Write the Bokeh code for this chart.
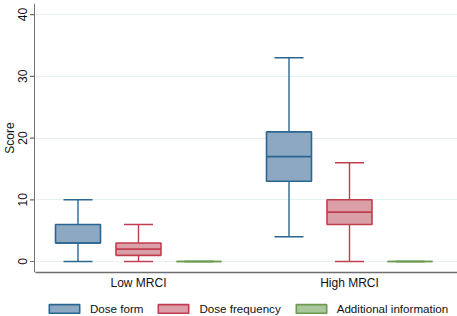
import math
from bokeh.plotting import figure
from bokeh.layouts import column, row
from bokeh.core.properties import value
from bokeh.models import ColumnDataSource, Legend, LegendItem, FixedTicker
from bokeh.embed import file_html
from bokeh.resources import INLINE

groups = ["Low MRCI", "High MRCI"]
series = ["Dose form", "Dose frequency", "Additional information"]
# per series: values for [Low MRCI, High MRCI]
whisk_lo = {"Dose form": [0, 4], "Dose frequency": [0, 0], "Additional information": [0, 0]}
q1 = {"Dose form": [3, 13], "Dose frequency": [1, 6], "Additional information": [0, 0]}
median = {"Dose form": [3, 17], "Dose frequency": [2, 8], "Additional information": [0, 0]}
q3 = {"Dose form": [6, 21], "Dose frequency": [3, 10], "Additional information": [0, 0]}
whisk_hi = {"Dose form": [10, 33], "Dose frequency": [6, 16], "Additional information": [0, 0]}
y_ticks = [0, 10, 20, 30, 40]
y_label = "Score"

fills = ["#8CA8C2", "#DA9FA7", "#A9C79A"]
lines = ["#2A6690", "#C13E50", "#6C9A50"]
AXIS_COLOR = "#6E6E6E"

FONT = "Liberation Sans"
W = 457
H_MAIN, H_LEG = 296, 20
LEFT_W = 35
TOP, BOTTOM = 3, 24
frame_w = W - LEFT_W
unit = 211.0
x0 = (138 - LEFT_W) / unit
Y_RANGE = (-1.78, 41.8)

p = figure(width=W - LEFT_W, height=H_MAIN, output_backend="svg", toolbar_location=None,
           x_range=(-x0, frame_w / unit - x0), y_range=Y_RANGE, y_axis_location=None,
           min_border_left=0, min_border_right=0, min_border_top=TOP,
           min_border_bottom=BOTTOM)
p.outline_line_color = None
p.background_fill_color = "white"
p.border_fill_color = "white"

offs = [-60.5 / unit, 0.0, 60.5 / unit]
bw = 45 / unit
cw = 29 / unit

for i, s in enumerate(series):
    xs = [g + offs[i] for g in range(len(groups))]
    src = ColumnDataSource(dict(
        x=xs,
        left=[x - bw / 2 for x in xs], right=[x + bw / 2 for x in xs],
        cl=[x - cw / 2 for x in xs], cr=[x + cw / 2 for x in xs],
        lo=whisk_lo[s], q1=q1[s], med=median[s], q3=q3[s], hi=whisk_hi[s]))
    p.segment(x0="x", y0="q3", x1="x", y1="hi", source=src, line_color=lines[i], line_width=1.4)
    p.segment(x0="x", y0="lo", x1="x", y1="q1", source=src, line_color=lines[i], line_width=1.4)
    p.segment(x0="cl", y0="hi", x1="cr", y1="hi", source=src, line_color=lines[i], line_width=1.6)
    p.segment(x0="cl", y0="lo", x1="cr", y1="lo", source=src, line_color=lines[i], line_width=1.6)
    p.quad(left="left", right="right", bottom="q1", top="q3", source=src,
           fill_color=fills[i], line_color=lines[i], line_width=1.6)
    p.segment(x0="left", y0="med", x1="right", y1="med", source=src, line_color=lines[i], line_width=1.6)

p.xaxis.ticker = FixedTicker(ticks=[0, 1])
p.xaxis.major_label_overrides = {0: groups[0], 1: groups[1]}
p.xaxis.major_tick_line_color = None
p.xaxis.major_tick_out = 0
p.xaxis.minor_tick_line_color = None
p.xaxis.axis_line_color = AXIS_COLOR
p.xaxis.axis_line_width = 1.5
p.xaxis.major_label_text_font = FONT
p.xaxis.major_label_text_font_size = "12px"
p.xaxis.major_label_text_color = "#111111"
p.xaxis.major_label_standoff = 3

p.xgrid.grid_line_color = None
p.ygrid.ticker = FixedTicker(ticks=y_ticks)
p.ygrid.grid_line_color = "#E6F0F1"
p.ygrid.grid_line_width = 1

# left strip: y axis line, ticks, rotated tick labels and axis title (shares y range)
lf = figure(width=LEFT_W, height=H_MAIN, output_backend="svg", toolbar_location=None,
            x_axis_type=None, y_axis_type=None, x_range=(0, LEFT_W), y_range=p.y_range,
            min_border_left=0, min_border_right=0, min_border_top=TOP,
            min_border_bottom=BOTTOM)
lf.outline_line_color = None
lf.grid.visible = False
lf.segment(x0=[34.3], y0=[Y_RANGE[0]], x1=[34.3], y1=[Y_RANGE[1]],
           line_color=AXIS_COLOR, line_width=1.5)
lf.segment(x0=[29.5] * len(y_ticks), y0=y_ticks, x1=[35] * len(y_ticks), y1=y_ticks,
           line_color=AXIS_COLOR, line_width=1.2)
lf.text(x=[26] * len(y_ticks), y=y_ticks, text=[str(t) for t in y_ticks], angle=math.pi / 2,
        text_align="center", text_baseline="bottom", text_font=value(FONT),
        text_font_size="12px", text_color="#111111")
lf.text(x=[9], y=[20], text=[y_label], angle=math.pi / 2,
        text_align="center", text_baseline="middle", text_font=value(FONT),
        text_font_size="12px", text_color="#111111")

# legend strip below the plot
leg = figure(width=W, height=H_LEG, output_backend="svg", toolbar_location=None,
             x_axis_type=None, y_axis_type=None, x_range=(0, 1), y_range=(0, 1),
             min_border=0)
leg.outline_line_color = None
leg.grid.visible = False
items = []
for i, s in enumerate(series):
    r = leg.quad(left=[5], right=[6], bottom=[5], top=[6], fill_color=fills[i],
                 line_color=lines[i], line_width=1.6)
    items.append(LegendItem(label=s, renderers=[r]))
legend = Legend(items=items, orientation="horizontal", location=(45, 1),
                glyph_width=38, glyph_height=11, label_standoff=7, spacing=11,
                padding=0, margin=0, border_line_color=None, background_fill_alpha=0,
                label_text_font=FONT, label_text_font_size="11.6px", label_text_color="#111111",
                label_height=11)
leg.add_layout(legend, "center")

layout = column(row(lf, p, spacing=0), leg, spacing=0)
open("out.html", "w").write(file_html(layout, INLINE))
